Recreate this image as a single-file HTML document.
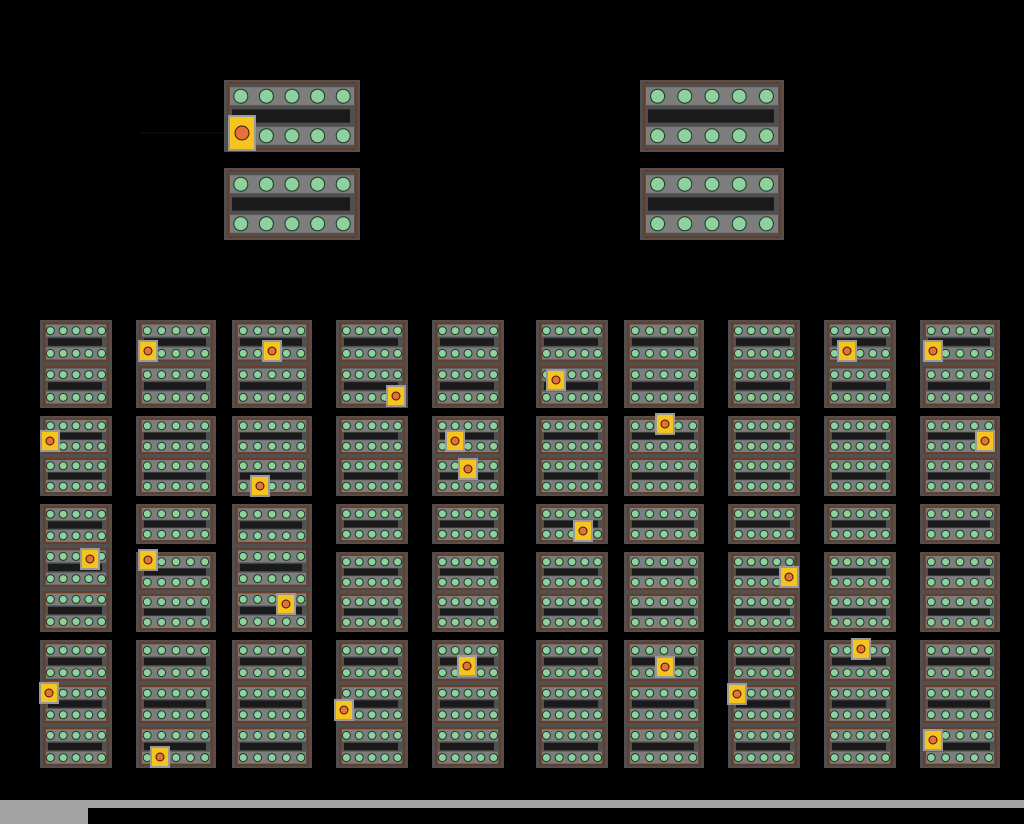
<!DOCTYPE html>
<html><head><style>
html,body{margin:0;padding:0;background:#000;width:1024px;height:824px;overflow:hidden}
svg{display:block}
</style></head><body>
<svg id="s" width="1024" height="824" xmlns="http://www.w3.org/2000/svg">
<rect width="1024" height="824" fill="#000"/>
<text x="240" y="36" font-family="Liberation Sans, sans-serif" font-size="12" fill="#000">Layout overview</text>
<rect x="0" y="800" width="1024" height="8" fill="#a3a3a3"/>
<rect x="0" y="800" width="88" height="24" fill="#a3a3a3"/>
<line x1="140" y1="133" x2="232" y2="133" stroke="#111" stroke-width="1"/>
</svg>
<script>
var s=document.getElementById('s'),NS='http://www.w3.org/2000/svg';
function el(t,a){var e=document.createElementNS(NS,t);for(var k in a)e.setAttribute(k,a[k]);s.appendChild(e);return e;}
function box(x,y,w,h,r){
  el('rect',{x:x,y:y,width:w,height:h,fill:'#505050'});
  var ix=x+4,iy=y+3,iw=w-8,ih=h-6;
  var rows=[iy+ih*0.2,iy+ih*0.8];
  rows.forEach(function(ry){el('rect',{x:ix+2,y:ry-r-2,width:iw-4,height:2*r+4,fill:'#7d7d7d'});});
  el('rect',{x:ix+4,y:iy+ih*0.4,width:iw-10,height:ih*0.2,fill:'#1a1a1a'});
  el('rect',{x:ix,y:iy,width:iw,height:ih,fill:'none',stroke:'#6b3d26','stroke-width':2});
  for(var i=0;i<5;i++){var cx=ix+iw*(0.1+0.2*i);
    rows.forEach(function(ry){el('circle',{cx:cx,cy:ry,r:r,fill:'#8fd19e',stroke:'#1a3a22','stroke-width':1});});}
}
box(224,80,136,72,7);box(224,168,136,72,7);box(640,80,144,72,7);box(640,168,144,72,7);
var cols=[[40,72],[136,80],[232,80],[336,72],[432,72],[536,72],[624,80],[728,72],[824,72],[920,80]];
cols.forEach(function(c,ci){var x=c[0],w=c[1];
  box(x,320,w,44,4);box(x,364,w,44,4);
  box(x,416,w,40,4);box(x,456,w,40,4);
  if(ci==0||ci==2){box(x,504,w,42,4);box(x,546,w,43,4);box(x,589,w,43,4);}
  else{box(x,504,w,40,4);box(x,552,w,40,4);box(x,592,w,40,4);}
  box(x,640,w,43,4);box(x,683,w,42,4);box(x,725,w,43,4);
});
function mark(cx,cy,w,h,r){
  el('rect',{x:cx-w/2-2,y:cy-h/2-2,width:w+4,height:h+4,fill:'#9a9a9a'});
  el('rect',{x:cx-w/2,y:cy-h/2,width:w,height:h,fill:'#f7c31e'});
  el('circle',{cx:cx,cy:cy,r:r,fill:'#e4703a',stroke:'#3a1a0a','stroke-width':1});
}
mark(242,133,24,32,7);
[[148,351],[272,351],[396,396],[556,380],[847,351],[933,351],[50,441],[455,441],[468,469],[260,486],[665,424],[985,441],[90,559],[148,560],[286,604],[583,531],[789,577],[49,693],[160,757],[344,710],[467,666],[665,667],[737,694],[861,649],[933,740]].forEach(function(p){mark(p[0],p[1],16,18,4);});
</script>
</body></html>
